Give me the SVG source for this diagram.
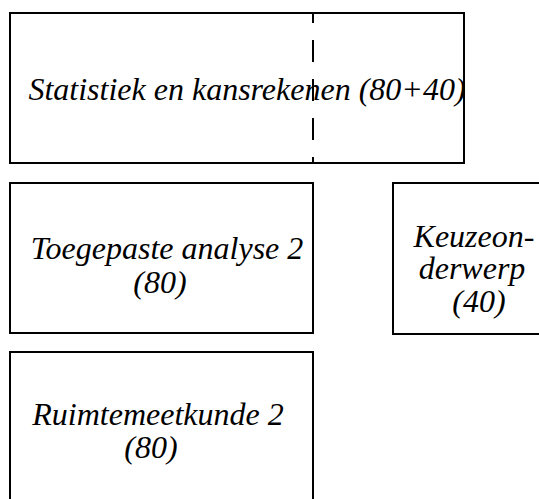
<svg xmlns="http://www.w3.org/2000/svg" width="539" height="499" viewBox="0 0 539 499">
<style>
.box{fill:#fff;stroke:#000;stroke-width:2}
.t{font-family:'Liberation Serif','Times New Roman',serif;font-style:italic;font-size:32px;fill:#000;text-anchor:middle}
.dash{stroke:#000;stroke-width:2;stroke-dasharray:22 17;stroke-dashoffset:12;fill:none}
</style>
<g id="statistiek">
<rect class="box" x="10" y="13" width="454" height="150"/>
<text class="t" x="247" y="100">Statistiek en kansrekenen (80+40)</text>
</g>
<g id="toegepaste">
<rect class="box" x="10" y="183" width="303" height="150"/>
<text class="t" x="167" y="259">Toegepaste analyse 2</text>
<text class="t" x="160" y="293">(80)</text>
</g>
<g id="keuze">
<rect class="box" x="393" y="183" width="170" height="151"/>
<text class="t" x="474" y="247">Keuzeon-</text>
<text class="t" x="472" y="279">derwerp</text>
<text class="t" x="479" y="312">(40)</text>
</g>
<g id="ruimtemeetkunde">
<rect class="box" x="10" y="352" width="303" height="170"/>
<text class="t" x="158" y="425">Ruimtemeetkunde 2</text>
<text class="t" x="151" y="458">(80)</text>
</g>
<g id="connectors">
<line class="dash" x1="313" y1="13" x2="313" y2="163"/>
</g>
</svg>
